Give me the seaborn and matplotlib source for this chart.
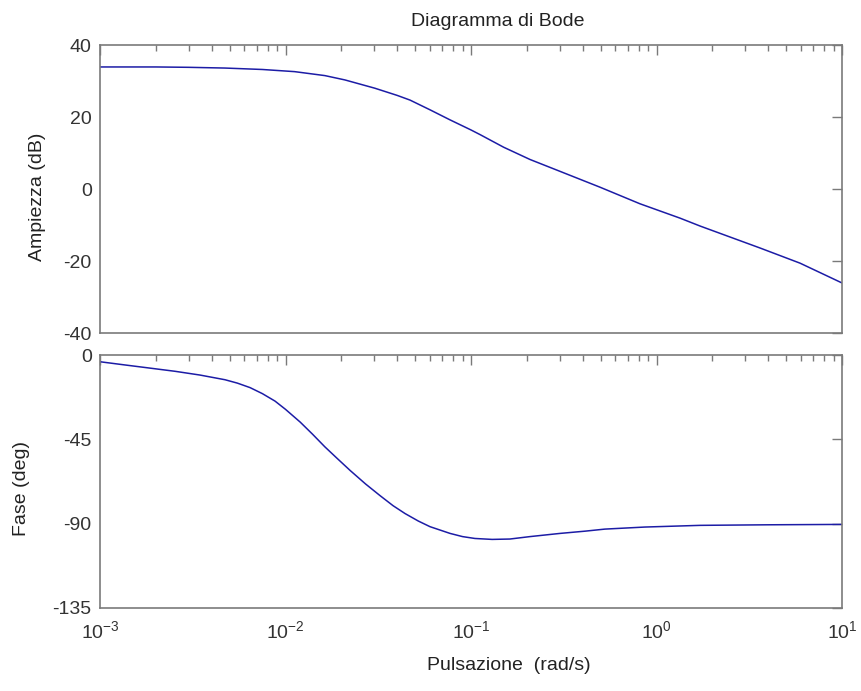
import numpy as np
import pandas as pd
import matplotlib
matplotlib.use("Agg")
import matplotlib.pyplot as plt
from matplotlib import font_manager
from matplotlib.ticker import LogLocator, NullFormatter, FixedLocator
import seaborn as sns

# Magnitude response (frequency in rad/s, gain in dB)
mag_freq = [0.001, 0.002, 0.003, 0.0047, 0.0075, 0.0112, 0.0163, 0.0209,
            0.0303, 0.040, 0.0469, 0.0601, 0.0771, 0.100, 0.112, 0.150,
            0.208, 0.302, 0.496, 0.814, 1.34, 1.72, 3.62, 5.94, 10.0]
mag_db = [33.9, 33.9, 33.8, 33.6, 33.2, 32.6, 31.5, 30.3,
          28.0, 26.0, 24.7, 22.0, 19.2, 16.4, 15.1, 11.6,
          8.2, 4.9, 0.5, -4.1, -8.1, -10.3, -16.4, -20.6, -26.1]

# Phase response (frequency in rad/s, phase in degrees)
phase_freq = [0.001, 0.00136, 0.00186, 0.00254, 0.00346, 0.00472, 0.0055,
              0.00644, 0.0075, 0.00878, 0.0100, 0.0120, 0.014, 0.0163,
              0.019, 0.0223, 0.0270, 0.0323, 0.038, 0.0441, 0.052, 0.0601,
              0.0771, 0.090, 0.105, 0.130, 0.162, 0.208, 0.302, 0.412,
              0.527, 0.867, 1.72, 4.0, 10.0]
phase_deg = [-3.6, -5.3, -7.0, -8.7, -10.7, -13.2, -15.0,
             -17.4, -20.6, -24.6, -29.0, -35.8, -42.3, -49.0,
             -55.2, -61.6, -68.8, -75.0, -80.4, -84.6, -88.6, -91.6,
             -95.2, -96.9, -97.9, -98.4, -98.2, -96.9, -95.2, -94.0,
             -92.9, -91.8, -90.9, -90.6, -90.4]

mag_ticks = [-40, -20, 0, 20, 40]
phase_ticks = [-135, -90, -45, 0]
freq_ticks = [1e-3, 1e-2, 1e-1, 1e0, 1e1]
freq_labels = [r"$10^{-3}$", r"$10^{-2}$", r"$10^{-1}$", r"$10^{0}$", r"$10^{1}$"]

sns.set_theme(style="white")
available = {f.name for f in font_manager.fontManager.ttflist}
family = [f for f in ["Liberation Sans Narrow", "Liberation Sans", "DejaVu Sans"]
          if f in available] or ["DejaVu Sans"]
plt.rcParams["font.family"] = family
plt.rcParams["axes.unicode_minus"] = False
plt.rcParams["mathtext.fontset"] = "custom"
plt.rcParams["mathtext.rm"] = family[0]
plt.rcParams["mathtext.it"] = family[0]
plt.rcParams["mathtext.default"] = "regular"

line_color = "#1c1ca6"
axis_color = "#7a7a7a"
text_color = "#222222"

fig = plt.figure(figsize=(8.61, 6.91), dpi=100)
W, H = 861, 691
ax_mag = fig.add_axes([100 / W, 1 - 333 / H, 742 / W, 288 / H])
ax_ph = fig.add_axes([100 / W, 1 - 608 / H, 742 / W, 253 / H])

mag_df = pd.DataFrame({"freq": mag_freq, "db": mag_db})
ph_df = pd.DataFrame({"freq": phase_freq, "deg": phase_deg})

sns.lineplot(data=mag_df, x="freq", y="db", ax=ax_mag, color=line_color,
             linewidth=1.1, estimator=None, sort=True)
sns.lineplot(data=ph_df, x="freq", y="deg", ax=ax_ph, color=line_color,
             linewidth=1.1, estimator=None, sort=True)

for ax in (ax_mag, ax_ph):
    ax.set_xscale("log")
    ax.set_xlim(1e-3, 1e1)
    ax.xaxis.set_major_locator(FixedLocator(freq_ticks))
    ax.xaxis.set_minor_locator(LogLocator(base=10, subs=np.arange(2, 10), numticks=20))
    ax.xaxis.set_minor_formatter(NullFormatter())
    ax.tick_params(axis="both", which="both", direction="in", top=True, right=True,
                   color=axis_color, labelcolor="#333333", labelsize=14, pad=6)
    ax.tick_params(axis="both", which="major", length=7, width=1)
    ax.tick_params(axis="both", which="minor", length=4.5, width=1)
    for sp in ax.spines.values():
        sp.set_visible(True)
        sp.set_color(axis_color)
        sp.set_linewidth(1.2)
    ax.set_xlabel("")
    ax.set_ylabel("")
    ax.grid(False)

ax_mag.set_ylim(-40, 40)
ax_mag.set_yticks(mag_ticks)
ax_mag.tick_params(axis="x", labelbottom=False)

ax_ph.set_ylim(-135, 0)
ax_ph.set_yticks(phase_ticks)
ax_ph.set_xticks(freq_ticks)
ax_ph.set_xticklabels(freq_labels)
ax_ph.tick_params(axis="x", pad=9)

fig.text(498 / W, 1 - 22 / H, "Diagramma di Bode", ha="center", va="center",
         fontsize=14, color=text_color)
fig.text(509 / W, 1 - 665 / H, "Pulsazione  (rad/s)", ha="center", va="center",
         fontsize=14, color=text_color)
fig.text(38 / W, 1 - 197 / H, "Ampiezza (dB)", ha="center", va="center",
         rotation=90, fontsize=14, color=text_color)
fig.text(22 / W, 1 - 489 / H, "Fase (deg)", ha="center", va="center",
         rotation=90, fontsize=14, color=text_color)

fig.savefig("out.png", dpi=100, facecolor="white")
